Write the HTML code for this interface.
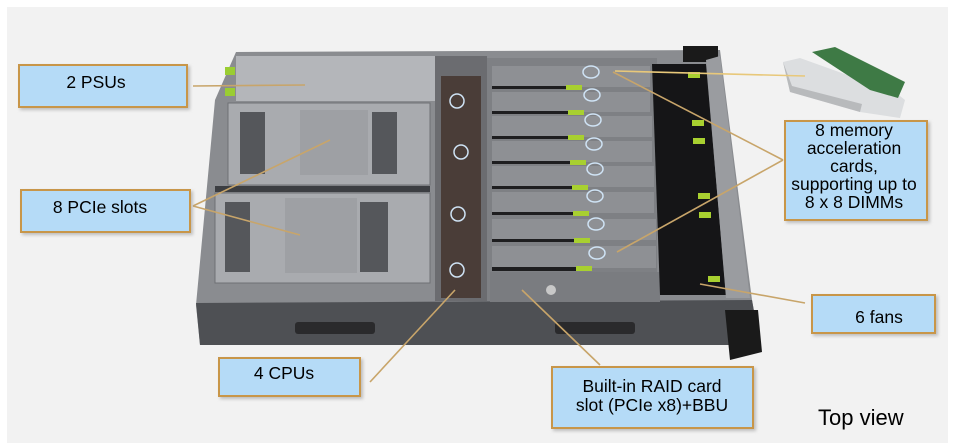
<!DOCTYPE html>
<html><head><meta charset="utf-8"><style>
html,body{margin:0;padding:0;background:#fff;}
svg{display:block;}
text{font-family:"Liberation Sans",Arial,sans-serif;}
</style></head><body>
<svg width="953" height="448" viewBox="0 0 953 448" xmlns="http://www.w3.org/2000/svg">
<defs>
<filter id="sh" x="-10%" y="-10%" width="130%" height="140%"><feDropShadow dx="2" dy="2" stdDeviation="1.5" flood-color="#999" flood-opacity="0.6"/></filter>
</defs>
<rect x="7" y="7" width="941" height="436" fill="#f2f2f2"/>
<polygon points="236,52 720,50 752,300 760,345 200,345 196,305 215,100" fill="#8a8c90"/>
<polygon points="196,303 752,300 760,345 200,345" fill="#4e5054"/>
<rect x="295" y="322" width="80" height="12" rx="3" fill="#2a2a2c"/>
<rect x="555" y="322" width="80" height="12" rx="3" fill="#2a2a2c"/>
<rect x="683" y="46" width="35" height="16" fill="#1a1a1a"/>
<polygon points="725,310 758,310 762,352 730,360" fill="#1a1a1a"/>
<rect x="236" y="56" width="200" height="45" fill="#b4b6ba"/>
<rect x="225" y="67" width="10" height="8" fill="#9acd32"/>
<rect x="225" y="88" width="10" height="8" fill="#9acd32"/>
<rect x="228" y="103" width="202" height="82" fill="#a9abaf" stroke="#6e7074"/>
<rect x="300" y="110" width="68" height="65" fill="#9ea0a4"/>
<rect x="240" y="112" width="25" height="62" fill="#55575b"/>
<rect x="372" y="112" width="25" height="62" fill="#55575b"/>
<rect x="215" y="193" width="215" height="90" fill="#a9abaf" stroke="#6e7074"/>
<rect x="285" y="198" width="72" height="75" fill="#9ea0a4"/>
<rect x="225" y="202" width="25" height="70" fill="#55575b"/>
<rect x="360" y="202" width="28" height="70" fill="#55575b"/>
<rect x="215" y="186" width="215" height="6" fill="#3c3e42"/>
<rect x="435" y="56" width="52" height="245" fill="#6b6c70"/>
<rect x="441" y="76" width="40" height="222" fill="#4a3d38"/>
<g fill="none" stroke="#cfe3f5" stroke-width="1.5">
<circle cx="457" cy="101" r="7"/><circle cx="461" cy="152" r="7"/><circle cx="458" cy="214" r="7"/><circle cx="457" cy="270" r="7"/>
</g>
<rect x="487" y="58" width="170" height="243" fill="#7e8084"/>
<g fill="#8e9094">
<rect x="492" y="66" width="158" height="21"/><rect x="492" y="92" width="158" height="20"/>
<rect x="492" y="116" width="160" height="21"/><rect x="492" y="141" width="160" height="21"/>
<rect x="492" y="166" width="162" height="21"/><rect x="492" y="192" width="162" height="21"/>
<rect x="492" y="219" width="164" height="21"/><rect x="492" y="246" width="164" height="22"/>
</g>
<g fill="#1e1e20">
<rect x="492" y="86" width="80" height="3"/><rect x="492" y="111" width="80" height="3"/>
<rect x="492" y="136" width="80" height="3"/><rect x="492" y="161" width="82" height="3"/>
<rect x="492" y="186" width="82" height="3"/><rect x="492" y="212" width="82" height="3"/>
<rect x="492" y="239" width="84" height="3"/><rect x="492" y="267" width="84" height="4"/>
</g>
<g fill="#a8d030">
<rect x="566" y="85" width="16" height="5"/><rect x="568" y="110" width="16" height="5"/>
<rect x="568" y="135" width="16" height="5"/><rect x="570" y="160" width="16" height="5"/>
<rect x="572" y="185" width="16" height="5"/><rect x="573" y="211" width="16" height="5"/>
<rect x="574" y="238" width="16" height="5"/><rect x="576" y="266" width="16" height="5"/>
</g>
<g fill="none" stroke="#cfe3f5" stroke-width="1.5">
<ellipse cx="591" cy="72" rx="8" ry="6"/><ellipse cx="592" cy="95" rx="8" ry="6"/><ellipse cx="593" cy="120" rx="8" ry="6"/><ellipse cx="594" cy="144" rx="8" ry="6"/>
<ellipse cx="595" cy="169" rx="8" ry="6"/><ellipse cx="595" cy="196" rx="8" ry="6"/><ellipse cx="596" cy="224" rx="8" ry="6"/><ellipse cx="597" cy="253" rx="8" ry="6"/>
</g>
<rect x="490" y="272" width="170" height="30" fill="#7a7c80"/>
<circle cx="551" cy="290" r="5" fill="#c8c8c8"/>
<polygon points="652,64 706,64 726,295 660,295" fill="#151517"/>
<polygon points="706,60 720,56 750,298 726,298" fill="#9a9ca0"/>
<g fill="#a8d030">
<rect x="688" y="72" width="12" height="6"/><rect x="692" y="120" width="12" height="6"/><rect x="693" y="138" width="12" height="6"/>
<rect x="698" y="193" width="12" height="6"/><rect x="699" y="212" width="12" height="6"/><rect x="708" y="276" width="12" height="6"/>
</g>
<polygon points="783,62 800,58 895,92 905,100 900,118 860,112 790,92" fill="#dcdee0"/>
<polygon points="783,62 790,92 860,112 862,104 792,86" fill="#b8babc"/>
<polygon points="812,52 835,47 905,82 898,98 870,90" fill="#3e7a45"/>
<g stroke="#c8a56a" stroke-width="1.6" fill="none">
<line x1="193" y1="86" x2="305" y2="85"/>
<line x1="193" y1="206" x2="330" y2="140"/><line x1="193" y1="206" x2="300" y2="235"/>
<line x1="370" y1="382" x2="455" y2="290"/>
<line x1="783" y1="160" x2="613" y2="72"/><line x1="783" y1="160" x2="617" y2="252"/>
<line x1="615" y1="71" x2="805" y2="76" stroke="#e8c87a"/>
<line x1="700" y1="284" x2="805" y2="303"/>
<line x1="522" y1="290" x2="600" y2="365"/>
</g>
<g fill="#b5dbf7" stroke="#c8964a" stroke-width="2" filter="url(#sh)">
<rect x="19" y="65" width="168" height="42"/>
<rect x="21" y="190" width="169" height="42"/>
<rect x="219" y="358" width="141" height="38"/>
<rect x="552" y="367" width="201" height="61"/>
<rect x="785" y="121" width="142" height="99"/>
<rect x="812" y="295" width="123" height="38"/>
</g>
<g font-size="17.5" fill="#000" text-anchor="middle">
<text x="96" y="88">2 PSUs</text>
<text x="100" y="213">8 PCIe slots</text>
<text x="284" y="379">4 CPUs</text>
<text x="652" y="392">Built-in RAID card</text>
<text x="652" y="411">slot (PCIe x8)+BBU</text>
<text x="854" y="136">8 memory</text>
<text x="854" y="154">acceleration</text>
<text x="854" y="172">cards,</text>
<text x="854" y="190">supporting up to</text>
<text x="854" y="208">8 x 8 DIMMs</text>
<text x="879" y="323">6 fans</text>
</g>
<text x="818" y="425" font-size="22" fill="#000">Top view</text>
</svg>
</body></html>
